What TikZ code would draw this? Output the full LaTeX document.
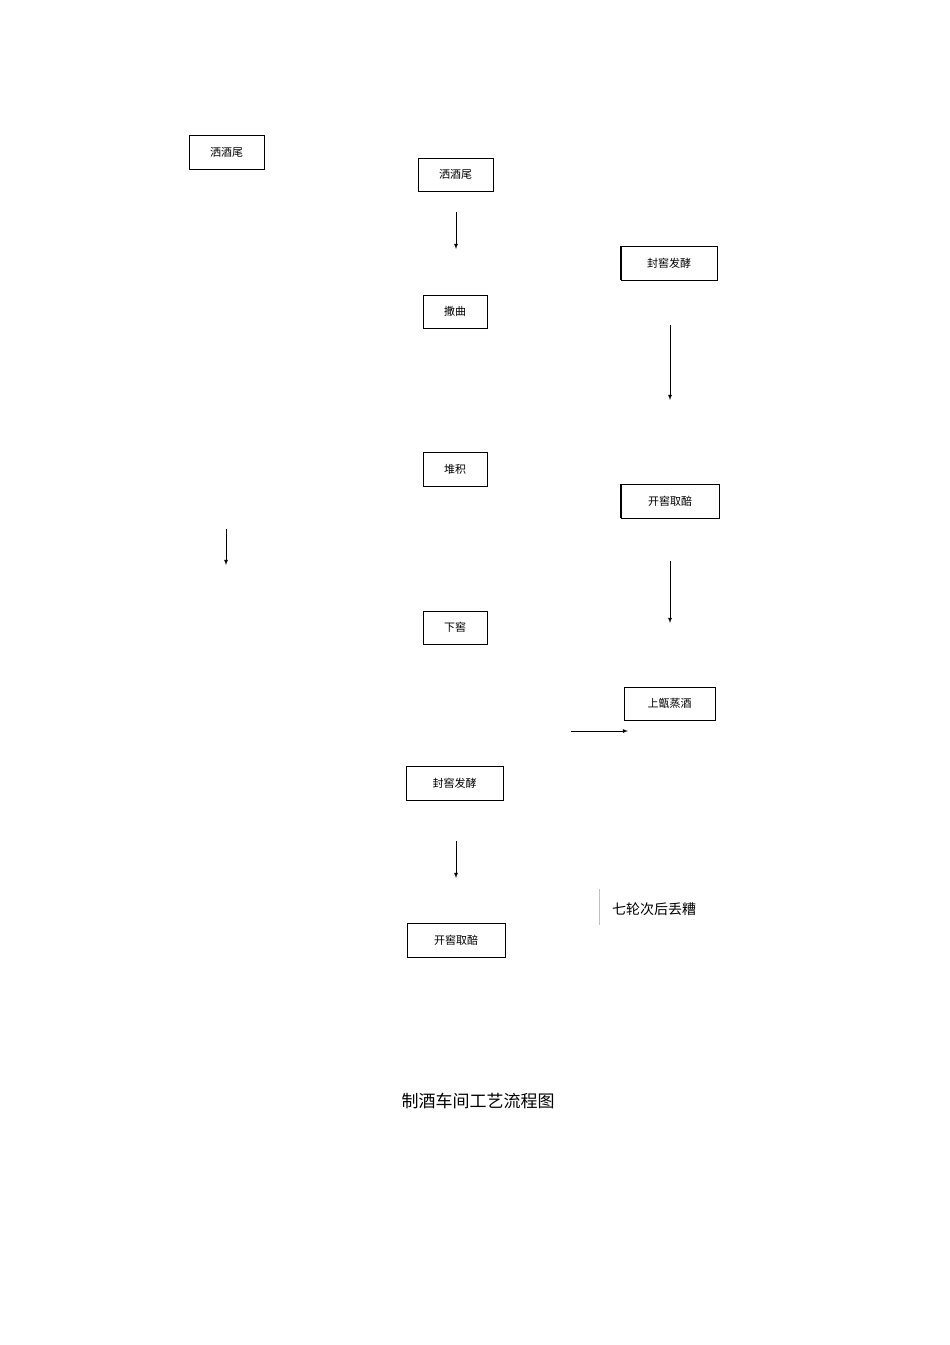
\documentclass[tikz,border=0pt]{standalone}
\usepackage{fontspec}
\newfontfamily\cjk{Noto Sans CJK SC}
\begin{document}
\begin{tikzpicture}[x=1pt,y=-1pt,
  bx/.style={draw,line width=0.8pt,inner sep=0pt,font=\cjk\fontsize{11}{13}\selectfont},
  ar/.style={-latex,line width=0.8pt}]
\useasboundingbox[fill=white] (0,0) rectangle (950,1345);
\node[bx,minimum width=75,minimum height=34] (a) at (226.5,152) {洒酒尾};
\node[bx,minimum width=75,minimum height=33] (b) at (455.5,174.5) {洒酒尾};
\node[bx,minimum width=96,minimum height=34] (c) at (669,263) {封窖发酵};
\node[bx,minimum width=64,minimum height=33] (d) at (455,311.5) {撒曲};
\node[bx,minimum width=64,minimum height=34] (e) at (455,469) {堆积};
\node[bx,minimum width=98,minimum height=34] (f) at (670,501) {开窖取醅};
\node[bx,minimum width=64,minimum height=33] (g) at (455,627.5) {下窖};
\node[bx,minimum width=91,minimum height=33] (h) at (669.5,703.5) {上甑蒸酒};
\node[bx,minimum width=97,minimum height=34] (i) at (454.5,783) {封窖发酵};
\node[bx,minimum width=98,minimum height=34] (j) at (456,940) {开窖取醅};
\draw[line width=1.6pt] (c.north west) -- (c.south west);
\draw[line width=1.6pt] (f.north west) -- (f.south west);
\draw[line width=1.6pt] (i.north east) -- (i.south east);
\coordinate (p1) at (456,212); \coordinate (q1) at (456,249);
\coordinate (p2) at (670,325); \coordinate (q2) at (670,400);
\coordinate (p3) at (226,529); \coordinate (q3) at (226,565);
\coordinate (p4) at (670,561); \coordinate (q4) at (670,623);
\coordinate (p5) at (571,731); \coordinate (q5) at (628,731);
\coordinate (p6) at (456,841); \coordinate (q6) at (456,878);
\foreach \k in {1,...,6} \draw[ar] (p\k) -- (q\k);
\coordinate (l1) at (599,889); \coordinate (l2) at (599,925);
\draw[gray!50,line width=0.5pt] (l1) -- (l2);
\node[font=\cjk\fontsize{14}{16}\selectfont,anchor=west,inner sep=0pt] (t) at (612,909) {七轮次后丢糟};
\node[font=\cjk\fontsize{17}{20}\selectfont,inner sep=0pt] (title) at (478,1101) {制酒车间工艺流程图};
\end{tikzpicture}
\end{document}
